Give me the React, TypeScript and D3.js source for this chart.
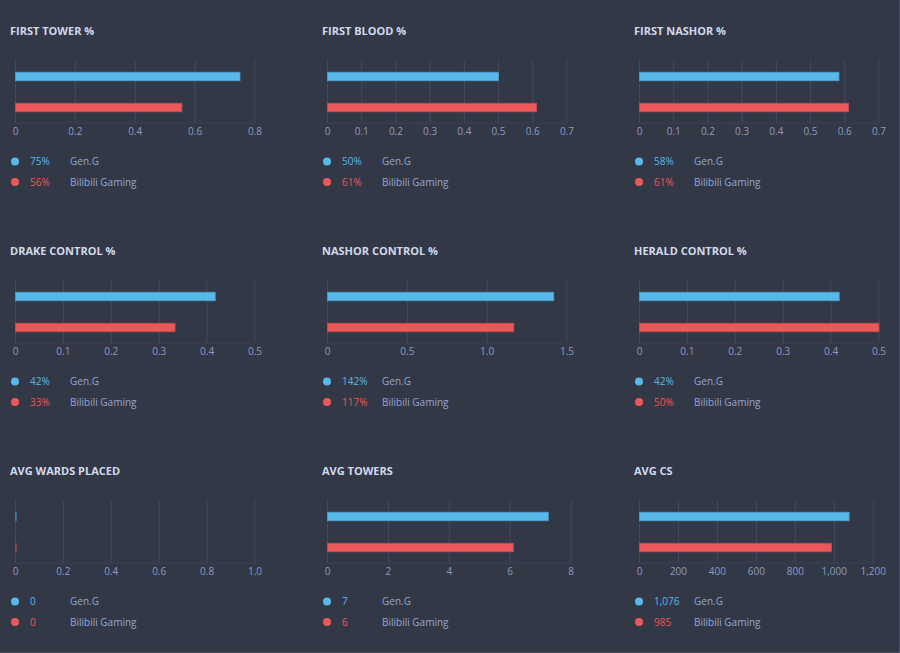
import React from "react";
import * as d3 from "d3";

const teams = ["Gen.G", "Bilibili Gaming"];
const teamColors = ["#56b9ea", "#ec5758"];
const titles = [
  "FIRST TOWER %", "FIRST BLOOD %", "FIRST NASHOR %",
  "DRAKE CONTROL %", "NASHOR CONTROL %", "HERALD CONTROL %",
  "AVG WARDS PLACED", "AVG TOWERS", "AVG CS",
];
const genG = [0.75, 0.5, 0.583, 0.417, 1.417, 0.417, 0, 7.25, 1076];
const blg = [0.556, 0.611, 0.611, 0.333, 1.167, 0.5, 0, 6.1, 985];
const genGLabels = ["75%", "50%", "58%", "42%", "142%", "42%", "0", "7", "1,076"];
const blgLabels = ["56%", "61%", "61%", "33%", "117%", "50%", "0", "6", "985"];
const domainMax = [0.8, 0.7, 0.7, 0.5, 1.5, 0.5, 1.0, 8, 1200];
const tickValues = [
  [0, 0.2, 0.4, 0.6, 0.8],
  [0, 0.1, 0.2, 0.3, 0.4, 0.5, 0.6, 0.7],
  [0, 0.1, 0.2, 0.3, 0.4, 0.5, 0.6, 0.7],
  [0, 0.1, 0.2, 0.3, 0.4, 0.5],
  [0, 0.5, 1.0, 1.5],
  [0, 0.1, 0.2, 0.3, 0.4, 0.5],
  [0, 0.2, 0.4, 0.6, 0.8, 1.0],
  [0, 2, 4, 6, 8],
  [0, 200, 400, 600, 800, 1000, 1200],
];
const tickLabels = [
  ["0", "0.2", "0.4", "0.6", "0.8"],
  ["0", "0.1", "0.2", "0.3", "0.4", "0.5", "0.6", "0.7"],
  ["0", "0.1", "0.2", "0.3", "0.4", "0.5", "0.6", "0.7"],
  ["0", "0.1", "0.2", "0.3", "0.4", "0.5"],
  ["0", "0.5", "1.0", "1.5"],
  ["0", "0.1", "0.2", "0.3", "0.4", "0.5"],
  ["0", "0.2", "0.4", "0.6", "0.8", "1.0"],
  ["0", "2", "4", "6", "8"],
  ["0", "200", "400", "600", "800", "1,000", "1,200"],
];

const W = 900;
const H = 653;
const FONT = "'Open Sans', 'Noto Sans', sans-serif";
const BG = "#333846";
const GRID = "#434a5b";

let ctx: CanvasRenderingContext2D | null = null;
function measure(text: string, font: string): number {
  if (!ctx) ctx = document.createElement("canvas").getContext("2d");
  if (!ctx) return text.length * 6;
  ctx.font = font;
  return ctx.measureText(text).width;
}

function Panel({ i }: { i: number }) {
  const col = i % 3;
  const row = Math.floor(i / 3);
  const ox = col * 312;
  const oy = row * 220;
  const ticks = tickLabels[i];
  const lastW = measure(ticks[ticks.length - 1], `10px ${FONT}`);
  const left = ox + 15.5;
  const right = ox + 262 - lastW / 2;
  const x = d3.scaleLinear().domain([0, domainMax[i]]).range([left, right]);
  const y = d3.scaleBand<string>().domain(teams).range([oy + 61, oy + 123]);
  const vals = [genG[i], blg[i]];
  const vlabels = [genGLabels[i], blgLabels[i]];
  return (
    <g>
      <text x={ox + 10} y={oy + 35} fill="#d2d9ee" fontSize={11} fontWeight={700} fontFamily={FONT}>
        {titles[i]}
      </text>
      {tickValues[i].map((t, k) => (
        <g key={k}>
          <line x1={x(t)} x2={x(t)} y1={oy + 61} y2={oy + 123} stroke={GRID} strokeWidth={1} />
          <text x={x(t)} y={oy + 135} textAnchor="middle" fill="#8e9bc0" fontSize={10} fontFamily={FONT}>
            {ticks[k]}
          </text>
        </g>
      ))}
      <line x1={left} x2={right} y1={oy + 123} y2={oy + 123} stroke="#3b4151" strokeWidth={1} />
      {teams.map((t, k) => {
        const cy = (y(t) as number) + y.bandwidth() / 2;
        return (
          <rect
            key={t}
            x={x(0)}
            y={cy - 4.25}
            width={Math.max(0.8, x(vals[k]) - x(0))}
            height={8.5}
            fill={teamColors[k]}
            stroke={d3.color(teamColors[k])!.darker(0.4).formatHex()}
            strokeWidth={0.8}
            opacity={vals[k] === 0 ? 0.6 : 1}
          />
        );
      })}
      {teams.map((t, k) => {
        const ly = oy + 161.5 + k * 20.5;
        return (
          <g key={t}>
            <circle cx={ox + 15} cy={ly} r={4} fill={teamColors[k]} />
            <text x={ox + 30} y={ly + 3.6} fill={teamColors[k]} fontSize={10} fontFamily={FONT}>
              {vlabels[k]}
            </text>
            <text x={ox + 70} y={ly + 3.6} fill="#93a6d6" fontSize={10} fontFamily={FONT}>
              {t}
            </text>
          </g>
        );
      })}
    </g>
  );
}

export default function App() {
  return (
    <div>
      <style>{`body{margin:0;background:${BG};}`}</style>
      <svg width={W} height={H} style={{ display: "block" }}>
        <rect x={0} y={0} width={W} height={H} fill={BG} />
        <line x1={W - 0.5} x2={W - 0.5} y1={0} y2={H} stroke="#4a5063" />
        <line x1={0} x2={W} y1={H - 0.5} y2={H - 0.5} stroke="#4a5063" />
        {titles.map((_, i) => (
          <Panel key={i} i={i} />
        ))}
      </svg>
    </div>
  );
}
